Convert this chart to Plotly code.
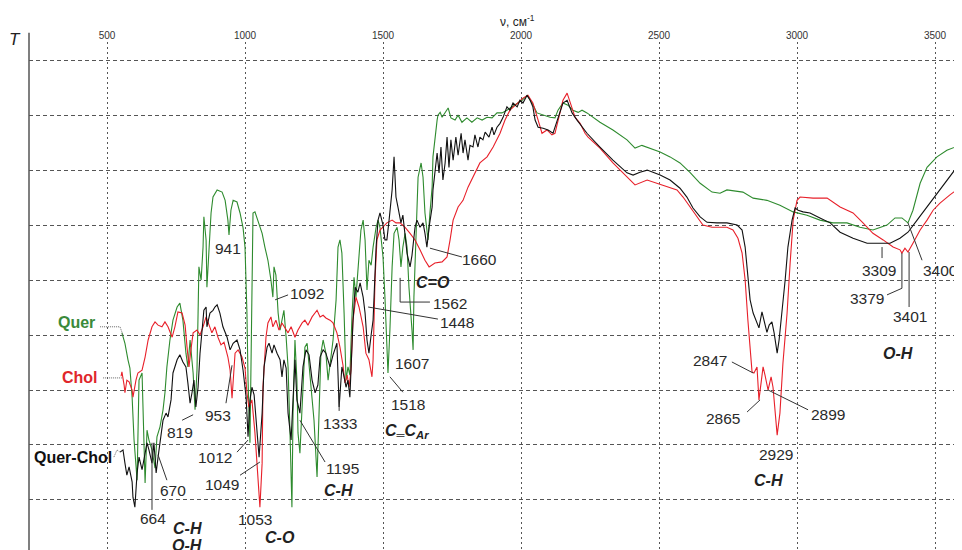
import plotly.graph_objects as go

# ---------------- data (wavenumber, cm-1 ; transmittance, arbitrary %) ----------------
wn_quer = [554, 565, 576, 583, 591, 598, 609, 616, 627, 634, 638, 645, 652, 663, 674, 681, 692, 703, 710, 717,
           728, 739, 754, 764, 775, 786, 793, 801, 812, 819, 826, 830, 833, 841, 848, 851, 859, 862, 870, 877,
           884, 899, 917, 928, 938, 942, 949, 957, 971, 982, 993, 1000, 1007, 1011, 1018, 1022, 1025, 1029, 1036, 1047,
           1062, 1072, 1083, 1094, 1101, 1105, 1112, 1120, 1127, 1134, 1141, 1149, 1156, 1163, 1170, 1174, 1181, 1188, 1192, 1199,
           1210, 1217, 1225, 1232, 1243, 1250, 1261, 1268, 1275, 1283, 1293, 1301, 1312, 1319, 1330, 1337, 1344, 1351, 1359, 1366,
           1373, 1380, 1388, 1395, 1402, 1409, 1420, 1428, 1435, 1442, 1449, 1457, 1464, 1475, 1482, 1489, 1500, 1507, 1514, 1518,
           1525, 1533, 1540, 1551, 1558, 1565, 1572, 1580, 1587, 1594, 1605, 1609, 1612, 1623, 1627, 1638, 1645, 1652, 1659, 1663,
           1670, 1678, 1681, 1688, 1696, 1699, 1707, 1714, 1725, 1736, 1746, 1761, 1772, 1786, 1804, 1822, 1841, 1859, 1877, 1895,
           1913, 1931, 1949, 1967, 1986, 2004, 2022, 2040, 2058, 2080, 2105, 2123, 2134, 2152, 2170, 2188, 2207, 2221, 2239, 2286,
           2333, 2384, 2413, 2438, 2467, 2504, 2540, 2576, 2612, 2649, 2692, 2721, 2746, 2804, 2841, 2891, 2938, 2986, 3036, 3083,
           3130, 3181, 3228, 3275, 3326, 3355, 3380, 3402, 3420, 3446, 3471, 3507, 3543, 3598]
t_quer = [40.4, 38.5, 35.5, 34.0, 28.7, 20.9, 13.6, 31.8, 33.1, 22.7, 13.1, 22.7, 20.9, 19.1, 15.8, 21.5, 23.3, 26.4, 29.5, 34.2,
          39.1, 42.7, 45.1, 45.8, 42.7, 36.7, 34.2, 39.1, 33.1, 26.4, 33.6, 44.0, 52.4, 50.0, 56.0, 61.5, 57.3, 48.7, 54.9, 62.2,
          65.1, 66.4, 66.0, 64.5, 60.9, 58.2, 62.7, 64.5, 64.2, 62.2, 59.5, 56.0, 44.0, 31.8, 20.4, 37.8, 56.0, 62.2, 62.4, 60.9,
          58.5, 56.0, 53.6, 50.0, 46.9, 52.4, 50.9, 44.0, 40.9, 42.7, 44.5, 39.6, 34.2, 22.2, 8.7, 25.8, 39.1, 31.8, 22.2, 18.5,
          30.5, 37.8, 38.5, 34.2, 28.7, 24.5, 14.2, 25.8, 36.7, 39.1, 36.7, 31.8, 36.7, 39.1, 46.4, 56.0, 57.3, 54.9, 44.0, 31.8,
          34.2, 32.7, 44.0, 50.5, 46.9, 51.3, 59.1, 60.9, 57.3, 48.2, 53.6, 52.7, 56.0, 59.6, 60.9, 59.6, 54.2, 46.9, 39.1, 33.1,
          40.9, 52.4, 58.5, 59.6, 57.3, 52.4, 56.0, 58.5, 56.0, 48.7, 40.9, 37.3, 46.9, 60.9, 68.7, 71.3, 68.7, 62.2, 59.1, 57.3,
          62.2, 66.9, 72.4, 76.0, 79.1, 80.0, 80.5, 79.6, 80.4, 81.3, 79.5, 79.1, 80.0, 78.7, 79.5, 78.7, 79.5, 79.1, 79.6, 79.5,
          80.4, 80.4, 80.9, 81.5, 82.2, 82.7, 83.6, 82.2, 80.4, 80.0, 79.6, 79.5, 80.9, 82.2, 81.8, 80.9, 80.5, 80.9, 80.4, 78.7,
          77.3, 75.5, 74.0, 74.5, 74.0, 73.3, 72.4, 71.3, 69.6, 67.6, 66.0, 65.8, 66.4, 66.0, 64.9, 64.5, 63.6, 62.4, 61.8, 60.9,
          60.4, 60.4, 59.6, 59.1, 60.0, 61.3, 61.3, 60.4, 62.7, 67.6, 70.5, 72.4, 73.6, 74.7]

wn_chol = [551, 554, 562, 565, 572, 580, 591, 594, 605, 612, 627, 638, 649, 663, 674, 685, 699, 710, 721, 736,
           746, 757, 772, 783, 790, 797, 804, 812, 826, 837, 848, 859, 870, 880, 891, 902, 913, 924, 938, 946,
           953, 960, 964, 975, 989, 1000, 1007, 1014, 1025, 1036, 1047, 1054, 1062, 1065, 1076, 1083, 1094, 1101, 1112, 1123,
           1134, 1145, 1156, 1167, 1181, 1192, 1207, 1217, 1228, 1243, 1254, 1261, 1272, 1283, 1293, 1308, 1319, 1333, 1344, 1355,
           1362, 1370, 1377, 1384, 1391, 1402, 1413, 1428, 1438, 1449, 1460, 1464, 1471, 1478, 1489, 1500, 1514, 1533, 1547, 1562,
           1580, 1598, 1616, 1634, 1652, 1667, 1688, 1714, 1732, 1743, 1754, 1772, 1790, 1808, 1826, 1851, 1877, 1899, 1924, 1942,
           1960, 1986, 2007, 2025, 2043, 2062, 2076, 2094, 2112, 2123, 2141, 2152, 2167, 2178, 2196, 2214, 2232, 2243, 2286, 2333,
           2384, 2413, 2457, 2493, 2529, 2565, 2587, 2612, 2638, 2659, 2692, 2746, 2768, 2786, 2801, 2812, 2822, 2830, 2837, 2844,
           2855, 2862, 2870, 2877, 2884, 2895, 2906, 2913, 2928, 2938, 2949, 2964, 2975, 2986, 3000, 3011, 3058, 3109, 3156, 3203,
           3239, 3275, 3312, 3348, 3373, 3380, 3391, 3402, 3420, 3446, 3471, 3493, 3518, 3554, 3598]
t_chol = [32.5, 33.3, 30.9, 29.5, 31.8, 31.5, 30.0, 28.7, 31.8, 33.1, 33.6, 36.0, 39.1, 41.5, 42.4, 41.8, 41.5, 42.4, 41.5, 39.6,
          41.5, 44.2, 44.0, 41.8, 37.8, 34.2, 37.3, 40.4, 40.9, 40.0, 41.5, 43.3, 41.8, 40.4, 41.5, 39.6, 38.2, 38.7, 36.0, 33.6,
          28.5, 33.6, 36.7, 37.3, 36.0, 34.0, 29.5, 26.9, 28.2, 22.2, 14.9, 8.7, 16.7, 30.5, 39.6, 42.2, 43.3, 41.5, 42.7, 40.9,
          42.2, 41.3, 40.4, 41.5, 39.6, 40.9, 42.2, 42.7, 41.8, 43.3, 44.0, 44.5, 43.3, 43.6, 43.1, 42.7, 42.2, 40.4, 37.8, 34.5,
          31.3, 32.7, 30.5, 33.6, 42.7, 46.9, 45.1, 41.5, 36.7, 35.5, 32.4, 35.5, 50.0, 57.3, 59.1, 59.6, 60.4, 60.9, 60.4, 60.4,
          59.6, 58.5, 57.3, 55.5, 53.6, 52.4, 53.1, 53.3, 54.2, 57.3, 60.9, 63.3, 64.5, 66.9, 68.7, 71.3, 72.4, 74.2, 76.7, 79.1,
          80.9, 82.2, 83.1, 83.6, 82.2, 79.1, 76.7, 77.3, 76.4, 76.7, 80.4, 82.7, 84.0, 82.2, 79.6, 78.5, 76.7, 76.0, 74.0, 71.3,
          68.7, 67.3, 68.2, 67.6, 66.9, 66.4, 65.1, 63.3, 61.5, 60.0, 59.6, 59.6, 59.1, 57.6, 54.9, 50.0, 42.7, 37.8, 33.3, 33.1,
          34.2, 28.2, 31.3, 34.2, 32.7, 30.0, 32.4, 30.5, 21.8, 25.8, 34.9, 44.0, 53.1, 60.9, 64.5, 65.1, 64.9, 64.9, 63.3, 62.2,
          60.4, 58.5, 57.3, 56.0, 55.5, 54.9, 55.8, 55.1, 56.7, 59.1, 60.9, 62.7, 64.0, 65.5, 67.1]

wn_qc = [547, 558, 565, 572, 580, 591, 594, 601, 609, 616, 627, 638, 645, 652, 663, 670, 678, 685, 696, 703,
         714, 721, 732, 739, 754, 764, 775, 786, 793, 801, 808, 815, 822, 830, 837, 844, 851, 859, 862, 873,
         884, 891, 899, 909, 920, 935, 946, 957, 971, 982, 993, 1004, 1011, 1018, 1025, 1033, 1043, 1051, 1062, 1069,
         1080, 1087, 1098, 1105, 1116, 1127, 1134, 1141, 1149, 1156, 1167, 1174, 1181, 1188, 1199, 1210, 1221, 1232, 1243, 1254,
         1264, 1272, 1283, 1293, 1308, 1319, 1333, 1341, 1351, 1359, 1366, 1373, 1380, 1391, 1399, 1409, 1417, 1428, 1435, 1442,
         1449, 1457, 1464, 1475, 1482, 1489, 1500, 1507, 1514, 1522, 1533, 1540, 1547, 1554, 1565, 1572, 1580, 1587, 1598, 1605,
         1616, 1623, 1634, 1645, 1652, 1659, 1667, 1678, 1681, 1688, 1696, 1703, 1710, 1717, 1725, 1732, 1739, 1746, 1754, 1764,
         1772, 1783, 1790, 1797, 1808, 1815, 1826, 1833, 1844, 1851, 1862, 1870, 1884, 1895, 1902, 1913, 1924, 1935, 1949, 1960,
         1971, 1986, 1996, 2007, 2022, 2033, 2043, 2051, 2062, 2080, 2098, 2116, 2134, 2152, 2167, 2185, 2203, 2221, 2239, 2286,
         2333, 2384, 2406, 2431, 2457, 2478, 2504, 2540, 2576, 2601, 2623, 2649, 2674, 2710, 2746, 2783, 2801, 2812, 2822, 2830,
         2841, 2855, 2862, 2873, 2880, 2891, 2899, 2909, 2917, 2928, 2935, 2946, 2957, 2967, 2982, 2993, 3004, 3022, 3047, 3083,
         3120, 3156, 3203, 3254, 3301, 3337, 3373, 3402, 3435, 3471, 3507, 3543, 3598]
t_qc = [18.7, 19.1, 16.7, 14.5, 16.0, 13.3, 10.5, 8.7, 14.9, 17.8, 15.5, 18.2, 20.4, 19.1, 16.7, 20.4, 14.9, 17.8, 22.2, 24.5,
        25.8, 25.1, 28.2, 33.1, 35.5, 36.4, 35.1, 34.2, 31.3, 27.6, 29.5, 31.8, 26.9, 30.5, 36.7, 40.9, 44.5, 45.1, 41.5, 44.0,
        44.5, 45.1, 45.5, 44.0, 41.5, 39.6, 37.3, 38.5, 39.1, 37.3, 33.6, 28.7, 21.5, 28.2, 30.5, 29.1, 22.2, 17.8, 25.8, 34.2,
        37.8, 38.5, 36.7, 38.2, 36.7, 35.5, 32.4, 35.5, 34.0, 25.8, 20.9, 29.5, 35.5, 28.2, 25.8, 34.2, 37.3, 36.4, 31.8, 29.5,
        30.9, 36.0, 37.3, 36.7, 34.2, 36.4, 38.5, 26.9, 34.2, 32.4, 30.5, 31.8, 28.7, 42.2, 48.7, 47.8, 49.5, 46.9, 44.0, 39.1,
        36.7, 40.0, 42.7, 56.0, 60.9, 62.2, 60.0, 57.3, 57.3, 60.9, 66.4, 72.4, 65.1, 63.3, 60.4, 61.8, 58.5, 54.9, 52.4, 54.5,
        59.6, 60.9, 59.6, 60.4, 58.5, 56.0, 59.6, 63.3, 66.4, 69.1, 73.1, 69.5, 74.2, 68.2, 71.3, 76.0, 70.5, 75.5, 71.8, 76.0,
        72.7, 76.7, 73.1, 75.5, 71.8, 74.5, 74.2, 76.4, 74.2, 76.0, 75.5, 76.9, 76.0, 77.8, 76.4, 77.8, 78.5, 79.6, 81.5, 80.9,
        82.2, 81.5, 82.7, 82.2, 83.6, 82.7, 81.5, 79.1, 77.8, 77.6, 77.3, 76.7, 79.6, 82.2, 82.7, 80.4, 79.1, 77.8, 76.7, 74.2,
        71.8, 69.5, 69.1, 69.6, 70.0, 69.6, 69.1, 68.2, 66.7, 65.1, 63.1, 61.5, 60.5, 60.4, 60.4, 60.0, 59.1, 56.0, 51.3, 46.4,
        44.0, 42.2, 41.3, 44.2, 42.7, 40.5, 41.8, 42.4, 40.4, 36.7, 39.1, 44.0, 50.0, 56.0, 60.9, 63.1, 62.7, 62.4, 62.2, 61.3,
        60.4, 58.7, 57.6, 56.7, 56.7, 56.7, 57.6, 58.7, 60.9, 63.3, 65.8, 68.2, 71.8]

x_ticks = [500, 1000, 1500, 2000, 2500, 3000, 3500]
y_grid = [10, 20, 30, 40, 50, 60, 70, 80, 90]

# peak labels: (text, wn, T)
peak_labels = [
    ("941", 938, 55.8), ("1092", 1225, 47.5), ("1660", 1851, 53.8), ("1562", 1743, 45.8),
    ("1448", 1768, 42.2), ("1607", 1605, 34.9), ("1518", 1591, 27.3), ("1333", 1344, 24.0),
    ("1195", 1355, 15.8), ("1053", 1036, 6.5), ("1049", 917, 12.9), ("1012", 891, 17.8),
    ("953", 902, 25.3), ("819", 764, 22.2), ("670", 739, 11.8), ("664", 667, 6.7),
    ("2847", 2685, 35.3), ("2865", 2732, 24.9), ("2899", 3112, 25.5), ("2929", 2924, 18.2),
    ("3309", 3297, 51.8), ("3400", 3518, 51.8), ("3379", 3254, 46.7), ("3401", 3409, 43.3),
]
# bond labels: (text, wn, T)
bond_labels = [
    ("C=O", 1681, 49.5), ("C<sub>═</sub>C<sub>Ar</sub>", 1587, 22.4), ("C-H", 1337, 11.8),
    ("C-O", 1127, 3.1), ("C-H", 790, 4.9), ("O-H", 790, 1.8),
    ("C-H", 2895, 13.6), ("O-H", 3366, 36.7),
]
# leader lines (poly-lines in wn, T)
leaders = [
    [(1109, 46.4), (1156, 47.3)],
    [(1670, 55.8), (1786, 54.2)],
    [(1562, 50.4), (1562, 46.0), (1670, 46.0)],
    [(1446, 45.1), (1699, 42.9)],
    [(1525, 32.4), (1572, 29.6)],
    [(1341, 29.5), (1341, 26.2)],
    [(1199, 24.5), (1290, 16.9)],
    [(1054, 16.9), (982, 14.5)],
    [(1011, 20.9), (971, 18.7)],
    [(953, 34.5), (931, 27.6)],
    [(812, 25.5), (772, 24.5)],
    [(685, 18.2), (717, 13.6)],
    [(663, 20.4), (663, 8.2)],
    [(2764, 35.1), (2841, 33.1)],
    [(2819, 26.0), (2866, 28.2)],
    [(2895, 30.0), (3040, 26.4)],
    [(3308, 56.0), (3308, 54.0)],
    [(3402, 60.4), (3453, 53.6)],
    [(3380, 54.9), (3380, 48.5), (3326, 47.3)],
    [(3406, 55.1), (3406, 45.1)],
]
# series labels: (text, wn of right end, T, colour), with dotted leaders
series_labels = [("Quer", 464, 42.2, "#3a8a3a"), ("Chol", 475, 32.2, "#e0262b"), ("Quer-Chol", 525, 17.8, "#111111")]
series_leaders = [
    [(475, 41.5), (547, 41.5), (558, 40.0)],
    [(486, 32.2), (554, 32.2)],
    [(525, 17.8), (536, 19.1), (547, 18.7)],
]

FONT = "Liberation Sans, Arial, sans-serif"
fig = go.Figure()

fig.add_trace(go.Scatter(x=wn_quer, y=t_quer, mode="lines", line=dict(color="#2e8b2e", width=1.1), name="Quer"))
fig.add_trace(go.Scatter(x=wn_chol, y=t_chol, mode="lines", line=dict(color="#e8202a", width=1.1), name="Chol"))
fig.add_trace(go.Scatter(x=wn_qc, y=t_qc, mode="lines", line=dict(color="#111111", width=1.1), name="Quer-Chol"))

for pts in leaders:
    fig.add_trace(go.Scatter(x=[p[0] for p in pts], y=[p[1] for p in pts], mode="lines",
                             line=dict(color="#333333", width=1), hoverinfo="skip"))
for pts in series_leaders:
    fig.add_trace(go.Scatter(x=[p[0] for p in pts], y=[p[1] for p in pts], mode="lines",
                             line=dict(color="#666666", width=1, dash="1px,1px"), hoverinfo="skip"))

ann = []
for txt, x, y in peak_labels:
    ann.append(dict(x=x, y=y, text=txt, showarrow=False, font=dict(family=FONT, size=15.5, color="#2a2a2a")))
for txt, x, y in bond_labels:
    ann.append(dict(x=x, y=y, text=f"<b><i>{txt}</i></b>", showarrow=False,
                    font=dict(family=FONT, size=16, color="#222222")))
for txt, x, y, c in series_labels:
    ann.append(dict(x=x, y=y, text=f"<b>{txt}</b>", showarrow=False, xanchor="right",
                    font=dict(family=FONT, size=16, color=c)))
ann.append(dict(xref="paper", yref="paper", x=0.524, y=1.041, xanchor="center", yanchor="middle",
                text="ν, см<sup>-1</sup>", showarrow=False,
                font=dict(family=FONT, size=12, color="#222222")))
ann.append(dict(xref="paper", yref="paper", x=-0.015, y=1.004, xanchor="center", yanchor="middle",
                text="<i>T</i>", showarrow=False,
                font=dict(family=FONT, size=17, color="#222222")))

# page body has an 8px margin, so the figure is sized to end at the window edge
fig.update_layout(
    width=954, height=542,
    margin=dict(l=21, r=0, t=34, b=0),
    paper_bgcolor="white", plot_bgcolor="white",
    showlegend=False,
    annotations=ann,
    shapes=[dict(type="line", xref="paper", yref="paper", x0=0, x1=0, y0=0, y1=1.018,
                 line=dict(color="#555555", width=1.5))],
    xaxis=dict(side="top", range=[217.4, 3597.7], tickvals=x_ticks, ticks="",
               showgrid=True, gridcolor="#555555", gridwidth=1, griddash="2px,3px",
               zeroline=False, showline=False,
               tickfont=dict(family=FONT, size=10, color="#333333")),
    yaxis=dict(range=[0.9, 93.3], tickvals=y_grid, showticklabels=False, ticks="",
               showgrid=True, gridcolor="#555555", gridwidth=1, griddash="4px,3px",
               zeroline=False, showline=False),
)

fig.write_html("out.html")
